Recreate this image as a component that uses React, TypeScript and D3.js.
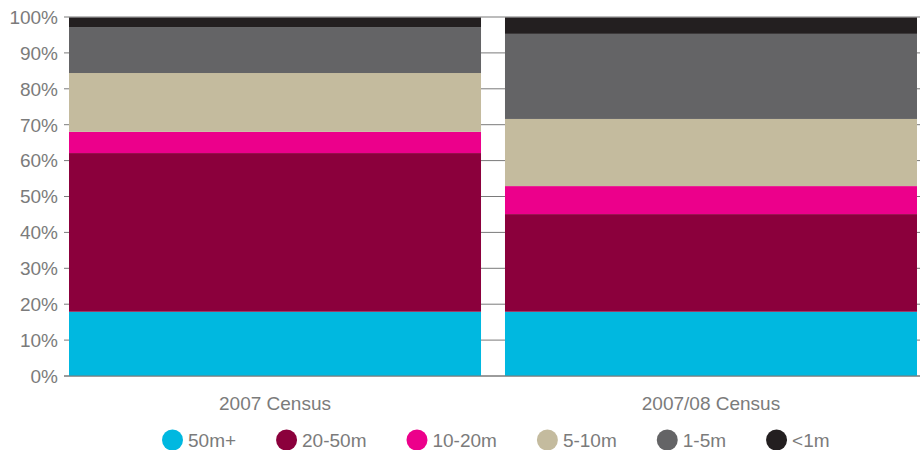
import React from "react";
import * as d3 from "d3";

const categories = ["2007 Census", "2007/08 Census"];
const seriesNames = ["50m+", "20-50m", "10-20m", "5-10m", "1-5m", "<1m"];
const values50mPlus = [17.9, 17.9];
const values20to50m = [44.2, 27.2];
const values10to20m = [5.9, 7.8];
const values5to10m = [16.4, 18.7];
const values1to5m = [12.8, 23.7];
const valuesUnder1m = [2.8, 4.7];
const colors = ["#00b8e0", "#8b003c", "#ec008b", "#c4bb9e", "#646466", "#231f20"];
const yTicks = [0, 10, 20, 30, 40, 50, 60, 70, 80, 90, 100];

const W = 920;
const H = 450;
const FONT = "'Liberation Sans', Arial, sans-serif";
const FS = 19;

function measure(text: string): number {
  const c = document.createElement("canvas");
  const ctx = c.getContext("2d");
  if (!ctx) return text.length * 10;
  ctx.font = `${FS}px 'Liberation Sans'`;
  return ctx.measureText(text).width;
}

export default function App() {
  const seriesValues = [values50mPlus, values20to50m, values10to20m, values5to10m, values1to5m, valuesUnder1m];
  const rows = categories.map((c, i) => {
    const r: any = { cat: c };
    seriesNames.forEach((s, j) => (r[s] = seriesValues[j][i]));
    return r;
  });
  const stack = d3.stack<any>().keys(seriesNames)(rows);

  const x = d3.scaleBand<string>().domain(categories).range([69, 917]).paddingInner(0.055).paddingOuter(0);
  const y = d3.scaleLinear().domain([0, 100]).range([376, 17]);

  // legend layout
  let lx = 162;
  const legendItems = seriesNames.map((s, i) => {
    const item = { name: s, color: colors[i], x: lx };
    lx += 21 + 5 + measure(s) + 40;
    return item;
  });

  return (
    <svg width={W} height={H} style={{ position: "fixed", left: 0, top: 0, background: "#fff" }} fontFamily={FONT}>
      {yTicks.map((t) => (
        <g key={t}>
          <line x1={64} x2={W} y1={y(t)} y2={y(t)} stroke="#7a7a7a" strokeWidth={1} />
          <text x={58} y={y(t)} dy="0.36em" textAnchor="end" fontSize={FS} fill="#7b7b7b">
            {t}%
          </text>
        </g>
      ))}
      {stack.map((layer, i) => (
        <g key={layer.key} fill={colors[i]}>
          {layer.map((d, j) => (
            <rect
              key={j}
              x={x(categories[j])}
              width={x.bandwidth()}
              y={y(d[1])}
              height={y(d[0]) - y(d[1])}
            />
          ))}
        </g>
      ))}
      <line x1={64} x2={W} y1={y(0)} y2={y(0)} stroke="#7a7a7a" strokeWidth={1} />
      <line x1={64} x2={W} y1={y(100)} y2={y(100)} stroke="#bbb" strokeWidth={1} />
      {categories.map((c) => (
        <text key={c} x={(x(c) as number) + x.bandwidth() / 2} y={410} textAnchor="middle" fontSize={FS} fill="#7b7b7b">
          {c}
        </text>
      ))}
      {legendItems.map((it) => (
        <g key={it.name}>
          <circle cx={it.x + 10.5} cy={440} r={10.5} fill={it.color} />
          <text x={it.x + 26} y={447} fontSize={FS} fill="#7b7b7b">
            {it.name}
          </text>
        </g>
      ))}
    </svg>
  );
}
